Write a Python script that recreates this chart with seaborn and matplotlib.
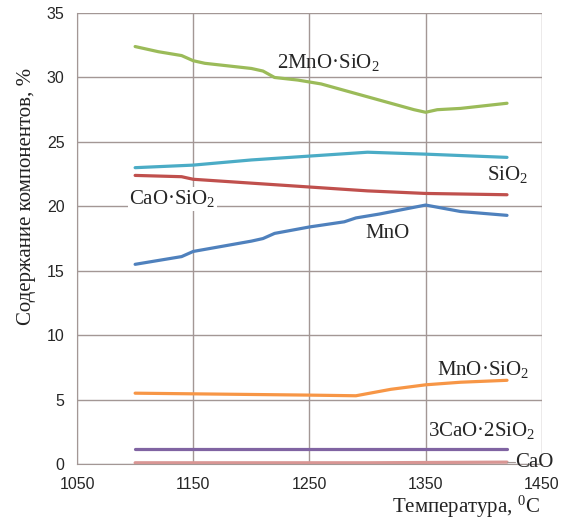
import pandas as pd
import numpy as np
import matplotlib.pyplot as plt
import seaborn as sns

# data
t_green = [1100, 1120, 1140, 1150, 1160, 1180, 1200, 1210, 1220, 1240, 1260, 1280, 1300, 1320, 1340, 1350, 1360, 1380, 1400, 1420]
mn2sio4 = [32.4, 32.0, 31.7, 31.3, 31.1, 30.9, 30.7, 30.5, 30.0, 29.8, 29.5, 29.0, 28.5, 28.0, 27.5, 27.3, 27.5, 27.6, 27.8, 28.0]

t_sio2 = [1100, 1150, 1200, 1250, 1300, 1350, 1420]
sio2 = [23.0, 23.2, 23.6, 23.9, 24.2, 24.05, 23.8]

t_casio3 = [1100, 1140, 1150, 1200, 1250, 1300, 1350, 1420]
casio3 = [22.4, 22.3, 22.1, 21.8, 21.5, 21.2, 21.0, 20.9]

t_mno = [1100, 1140, 1150, 1200, 1210, 1220, 1250, 1280, 1290, 1310, 1350, 1380, 1420]
mno = [15.5, 16.1, 16.5, 17.3, 17.5, 17.9, 18.4, 18.8, 19.1, 19.4, 20.1, 19.6, 19.3]

t_mnsio3 = [1100, 1150, 1200, 1250, 1290, 1320, 1350, 1380, 1420]
mnsio3 = [5.5, 5.45, 5.4, 5.35, 5.3, 5.8, 6.15, 6.35, 6.5]

t_flat = [1100, 1200, 1300, 1420]
ca3si2 = [1.2, 1.2, 1.2, 1.2]
cao = [0.1, 0.1, 0.1, 0.15]

series = [
    (t_green, mn2sio4, "#9BBB59"),
    (t_sio2, sio2, "#4BACC6"),
    (t_casio3, casio3, "#C0504D"),
    (t_mno, mno, "#4F81BD"),
    (t_mnsio3, mnsio3, "#F79646"),
    (t_flat, ca3si2, "#8064A2"),
    (t_flat, cao, "#D99694"),
]

sns.set_style("white")
plt.rcParams['font.family'] = ['Liberation Serif', 'DejaVu Serif']
plt.rcParams['mathtext.fontset'] = 'custom'
plt.rcParams['mathtext.rm'] = 'Liberation Serif'
plt.rcParams['mathtext.it'] = 'Liberation Serif:italic'

fig = plt.figure(figsize=(5.68, 5.22), dpi=100)
ax = fig.add_axes([0.1356, 0.111, 0.8184, 0.864])

for xs, ys, c in series:
    df = pd.DataFrame({'t': xs, 'v': ys})
    sns.lineplot(data=df, x='t', y='v', color=c, linewidth=2.3, ax=ax)

ax.set_xlim(1050, 1450)
ax.set_ylim(0, 35)
ax.set_xticks([1050, 1150, 1250, 1350, 1450])
ax.set_yticks(range(0, 36, 5))
grid_c = "#A39795"
ax.grid(True, color=grid_c, linewidth=1.0)
ax.set_axisbelow(True)
for s in ['top', 'right']:
    ax.spines[s].set_visible(False)
ax.spines['left'].set_color(grid_c)
ax.spines['bottom'].set_color(grid_c)
ax.tick_params(axis='both', length=5, color=grid_c, labelsize=11.5, pad=4)
for lab in ax.get_xticklabels() + ax.get_yticklabels():
    lab.set_family('Liberation Sans')
    lab.set_color('#262626')

ax.set_xlabel('')
ax.set_ylabel('Содержание компонентов, %', fontsize=15, color='#222222')
ax.yaxis.set_label_coords(-0.088, 0.594)
fig.text(0.951, 0.029, 'Температура, $^{0}$C', fontsize=15, ha='right', va='center',
         color='#222222')

fs = 15
ax.text(1222, 31.2, '2MnO·SiO$_2$', fontsize=fs, va='center')
ax.text(1403, 22.5, 'SiO$_2$', fontsize=fs, va='center')
ax.text(1095, 20.6, 'CaO·SiO$_2$', fontsize=fs, va='center',
        bbox=dict(facecolor='white', edgecolor='none', pad=1))
ax.text(1298, 17.9, 'MnO', fontsize=fs, va='center',
        bbox=dict(facecolor='white', edgecolor='none', pad=1))
ax.text(1360, 7.3, 'MnO·SiO$_2$', fontsize=fs, va='center')
ax.text(1352, 2.6, '3CaO·2SiO$_2$', fontsize=fs, va='center')
ax.text(1427, 0.15, 'CaO', fontsize=fs, va='center', clip_on=False)
ax.plot([1420, 1427], [0.15, 0.15], color=grid_c, linewidth=0.8, clip_on=False)

fig.savefig('out.png', dpi=100)
